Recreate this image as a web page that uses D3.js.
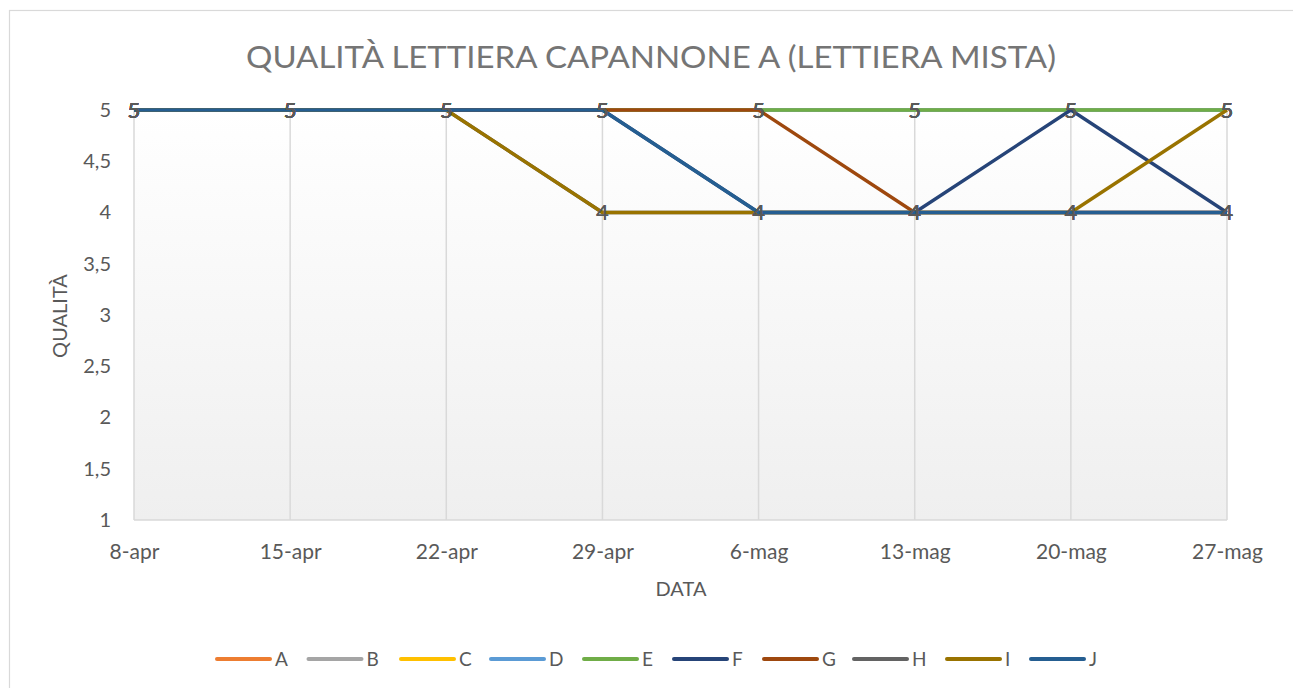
<!DOCTYPE html>
<html><head><meta charset="utf-8">
<script src="https://cdn.jsdelivr.net/npm/d3@7"></script>
<style>body{margin:0;background:#fff}svg{display:block}text{font-family:Lato,"Open Sans",sans-serif}</style>
</head><body><svg id="c" width="1293" height="688"></svg>
<script>
const dates = ["8-apr","15-apr","22-apr","29-apr","6-mag","13-mag","20-mag","27-mag"];
const seriesNames = ["A","B","C","D","E","F","G","H","I","J"];
const seriesColors = ["#ED7D31","#A5A5A5","#FFC000","#5B9BD5","#70AD47","#264478","#9E480E","#636363","#997300","#255E91"];
const valA = [5,5,5,5,5,5,5,5];
const valB = [5,5,5,5,5,5,5,5];
const valC = [5,5,5,5,5,5,5,5];
const valD = [5,5,5,5,5,5,5,5];
const valE = [5,5,5,5,5,5,5,5];
const valF = [5,5,5,5,4,4,5,4];
const valG = [5,5,5,5,5,4,4,4];
const valH = [5,5,5,4,4,4,4,4];
const valI = [5,5,5,4,4,4,4,5];
const valJ = [5,5,5,5,4,4,4,4];
const yTicks = [1,1.5,2,2.5,3,3.5,4,4.5,5];
const titleText = "QUALITÀ LETTIERA CAPANNONE A (LETTIERA MISTA)";
const xTitle = "DATA", yTitle = "QUALITÀ";

const allVals = [valA,valB,valC,valD,valE,valF,valG,valH,valI,valJ];
const series = seriesNames.map((n,i)=>({name:n,color:seriesColors[i],values:allVals[i]}));

const svg = d3.select("#c");
const L=134,R=1227,T=110,B=520;
const x = d3.scalePoint().domain(dates).range([L,R]);
const y = d3.scaleLinear().domain([1,5]).range([B,T]);
const fmt = v => String(v).replace(".",",");

// outer border
svg.append("rect").attr("x",9.5).attr("y",10.5).attr("width",1300).attr("height",700)
  .attr("fill","#fff").attr("stroke","#d9d9d9").attr("stroke-width",1.2);

const defs = svg.append("defs");
const g = defs.append("linearGradient").attr("id","bg").attr("x1",0).attr("y1",0).attr("x2",0).attr("y2",1);
g.append("stop").attr("offset","0%").attr("stop-color","#ffffff");
g.append("stop").attr("offset","100%").attr("stop-color","#efefef");
svg.append("rect").attr("x",L).attr("y",T).attr("width",R-L).attr("height",B-T).attr("fill","url(#bg)");

// vertical gridlines
svg.append("g").selectAll("line").data(dates).join("line")
  .attr("x1",d=>x(d)).attr("x2",d=>x(d)).attr("y1",T).attr("y2",B)
  .attr("stroke","#d9d9d9").attr("stroke-width",1.5);

// x axis
const xa = svg.append("g").attr("transform",`translate(0,${B})`)
  .call(d3.axisBottom(x).tickSize(0).tickPadding(24));
xa.select(".domain").attr("stroke","#d9d9d9").attr("stroke-width",1.5).attr("d",`M${L},0H${R}`);
xa.selectAll("text").attr("font-size",21).attr("fill","#595959").attr("font-family","Lato");

// y axis (labels only)
const ya = svg.append("g").attr("transform",`translate(${L},0)`)
  .call(d3.axisLeft(y).tickValues(yTicks).tickFormat(fmt).tickSize(0).tickPadding(23));
ya.select(".domain").remove();
ya.selectAll("text").attr("font-size",20).attr("fill","#595959").attr("font-family","Lato");

// lines
const line = d3.line().x((d,i)=>x(dates[i])).y(d=>y(d));
svg.append("g").selectAll("path").data(series).join("path")
  .attr("d",d=>line(d.values)).attr("fill","none").attr("stroke",d=>d.color)
  .attr("stroke-width",3.3).attr("stroke-linejoin","round");

// data labels
const lg = svg.append("g");
series.forEach(s=>{
  lg.selectAll(null).data(s.values).join("text")
    .attr("x",(d,i)=>x(dates[i])).attr("y",d=>y(d)).attr("dy","0.36em")
    .attr("text-anchor","middle").attr("font-size",22).attr("fill","#595959")
    .text(d=>fmt(d));
});

// title
svg.append("text").attr("x",651).attr("y",57).attr("dy","0.36em").attr("text-anchor","middle")
  .attr("font-size",31).attr("fill","#757575").attr("textLength",810).attr("lengthAdjust","spacingAndGlyphs").text(titleText);

// axis titles
svg.append("text").attr("x",681).attr("y",589).attr("dy","0.36em").attr("text-anchor","middle")
  .attr("font-size",20).attr("fill","#595959").text(xTitle);
svg.append("text").attr("transform","translate(60,316) rotate(-90)").attr("dy","0.36em").attr("text-anchor","middle")
  .attr("font-size",20).attr("fill","#595959").text(yTitle);

// legend
const legX = [216,307.5,400,490,583,673,763,853,946,1030];
const leg = svg.append("g");
series.forEach((s,i)=>{
  const gx = leg.append("g").attr("transform",`translate(${legX[i]},659)`);
  gx.append("line").attr("x1",1).attr("x2",54).attr("y1",0).attr("y2",0)
    .attr("stroke",s.color).attr("stroke-width",4).attr("stroke-linecap","round");
  gx.append("text").attr("x",59).attr("dy","0.36em").attr("font-size",19).attr("fill","#595959").text(s.name);
});
</script></body></html>
